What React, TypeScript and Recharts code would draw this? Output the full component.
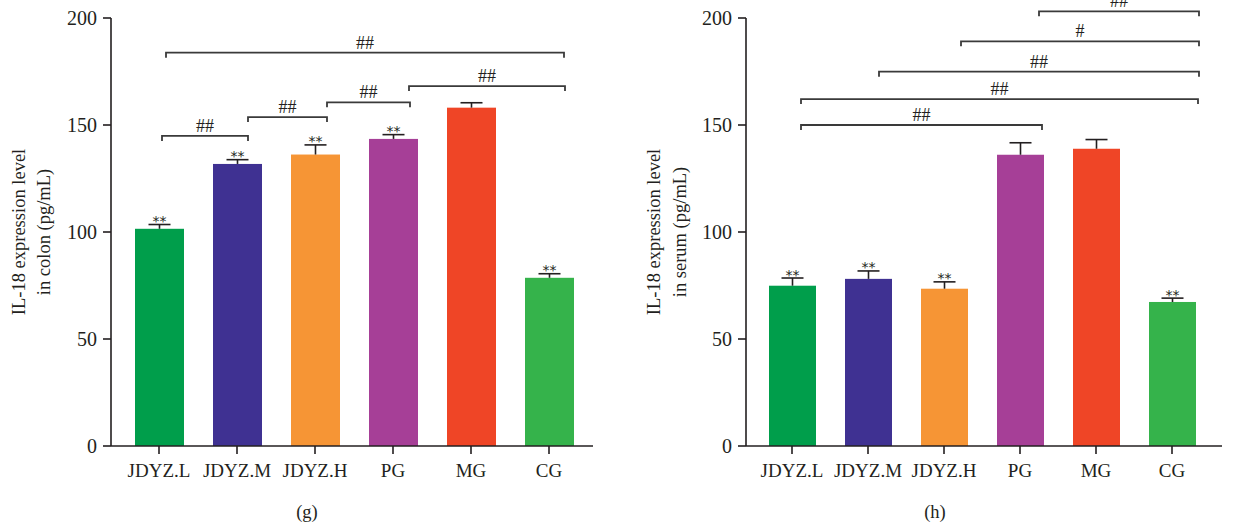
import { Bar, BarChart, ReferenceLine, XAxis, YAxis } from "recharts";

const GROUPS = ["JDYZ.L", "JDYZ.M", "JDYZ.H", "PG", "MG", "CG"];
const COLORS = ["#009e4b", "#3f3192", "#f69535", "#a63f97", "#ef4526", "#35b34b"];
const Y_TICKS = [0, 50, 100, 150, 200];

// (g) colon
const COLON_MEAN = [101.5, 131.8, 136.2, 143.5, 158.1, 78.6];
const COLON_SD = [2.0, 2.0, 4.5, 2.0, 2.3, 1.9];
const COLON_STARS = ["**", "**", "**", "**", "", "**"];

// (h) serum
const SERUM_MEAN = [74.9, 78.1, 73.5, 136.1, 138.9, 67.3];
const SERUM_SD = [3.6, 3.7, 3.2, 5.6, 4.3, 1.8];
const SERUM_STARS = ["**", "**", "**", "", "", "**"];

// significance brackets: from, to, level (data units), label
const COLON_BRACKETS = [
  { from: "JDYZ.L", to: "JDYZ.M", level: 144.9, label: "##" },
  { from: "JDYZ.M", to: "JDYZ.H", level: 153.7, label: "##" },
  { from: "JDYZ.H", to: "PG", level: 160.6, label: "##" },
  { from: "PG", to: "CG", level: 168.2, label: "##" },
  { from: "JDYZ.L", to: "CG", level: 183.8, label: "##" },
];
const SERUM_BRACKETS = [
  { from: "JDYZ.L", to: "PG", level: 150.0, label: "##" },
  { from: "JDYZ.L", to: "CG", level: 162.1, label: "##" },
  { from: "JDYZ.M", to: "CG", level: 174.9, label: "##" },
  { from: "JDYZ.H", to: "CG", level: 189.1, label: "#" },
  { from: "PG", to: "CG", level: 203.1, label: "##" },
];
// small horizontal nudges of the bracket ends (px), as drawn in the figure
const COLON_NUDGE = [[3, 11], [11, 12], [12, 17], [16, 16], [7, 15]];
const SERUM_NUDGE = [[9, 22], [9, 26], [11, 27], [17, 27], [19, 27]];

const INK = "#231f20";
const SERIF = "'Liberation Serif', 'Times New Roman', serif";

const build = (mean: number[], sd: number[], stars: string[]) =>
  GROUPS.map((name, i) => ({ name, mean: mean[i], sd: sd[i], star: stars[i], color: COLORS[i] }));

const colonData = build(COLON_MEAN, COLON_SD, COLON_STARS);
const serumData = build(SERUM_MEAN, SERUM_SD, SERUM_STARS);

function BarWithError(props: any) {
  const { x, y, width, height, payload } = props;
  const perUnit = payload.mean ? height / payload.mean : 0;
  const top = y - payload.sd * perUnit;
  const cx = x + width / 2;
  return (
    <g>
      <rect x={x} y={y} width={width} height={height} fill={payload.color} />
      <line x1={cx} x2={cx} y1={y} y2={top} stroke={INK} strokeWidth={1.6} />
      <line x1={cx - 11} x2={cx + 11} y1={top} y2={top} stroke={INK} strokeWidth={1.6} />
      {payload.star ? (
        <text x={cx} y={top + 1.5} textAnchor="middle" fontSize={14} fontFamily="'DejaVu Sans', sans-serif" fill={INK}>
          {payload.star}
        </text>
      ) : null}
    </g>
  );
}

const bracketShape = (label: string, nudge: number[]) => (props: any) => {
  const a = props.x1 + nudge[0];
  const b = props.x2 + nudge[1];
  const y = props.y1;
  return (
    <g>
      <path d={`M${a},${y + 5}V${y}H${b}V${y + 5}`} fill="none" stroke="#3a3a3a" strokeWidth={1.8} />
      <text x={(a + b) / 2} y={y - 4} textAnchor="middle" fontSize={18} fontFamily={SERIF} fill={INK}>
        {label}
      </text>
    </g>
  );
};

function Panel({ data, brackets, nudge, margin, padding, barSize }: any) {
  return (
    <BarChart width={626} height={529} data={data} margin={margin}>
      <XAxis
        dataKey="name"
        padding={padding}
        axisLine={{ stroke: INK, strokeWidth: 1.6 }}
        tickLine={{ stroke: INK, strokeWidth: 1.6 }}
        tickSize={8}
        tickMargin={10}
        tick={{ fill: INK, fontSize: 19, fontFamily: SERIF }}
        interval={0}
      />
      <YAxis
        width={60}
        domain={[0, 200]}
        ticks={Y_TICKS}
        axisLine={{ stroke: INK, strokeWidth: 1.6 }}
        tickLine={{ stroke: INK, strokeWidth: 1.6 }}
        tickSize={8}
        tickMargin={6}
        tick={{ fill: INK, fontSize: 20, fontFamily: SERIF }}
      />
      <Bar dataKey="mean" barSize={barSize} shape={BarWithError} isAnimationActive={false} />
      {brackets.map((b: any, i: number) => (
        <ReferenceLine
          key={i}
          segment={[
            { x: b.from, y: b.level },
            { x: b.to, y: b.level },
          ]}
          ifOverflow="visible"
          shape={bracketShape(b.label, nudge[i])}
        />
      ))}
    </BarChart>
  );
}

function YTitle({ x1, x2, cy, second }: { x1: number; x2: number; cy: number; second: string }) {
  return (
    <g fontFamily={SERIF} fontSize={18.5} fill={INK} textAnchor="middle">
      <text transform={`translate(${x1},${cy}) rotate(-90)`}>IL-18 expression level</text>
      <text transform={`translate(${x2},${cy}) rotate(-90)`}>{second}</text>
    </g>
  );
}

export default function App() {
  return (
    <div style={{ position: "absolute", left: 0, top: 0, width: 1252, height: 529, background: "#fff" }}>
      <div style={{ position: "absolute", left: 0, top: 0 }}>
        <Panel
          data={colonData}
          brackets={COLON_BRACKETS}
          nudge={COLON_NUDGE}
          margin={{ top: 18, right: 33, bottom: 53, left: 51 }}
          padding={{ left: 9, right: 5 }}
          barSize={49}
        />
      </div>
      <div style={{ position: "absolute", left: 626, top: 0 }}>
        <Panel
          data={serumData}
          brackets={SERUM_BRACKETS}
          nudge={SERUM_NUDGE}
          margin={{ top: 18, right: 30, bottom: 53, left: 60 }}
          padding={{ left: 8, right: 12 }}
          barSize={47}
        />
      </div>
      <svg width={1252} height={529} style={{ position: "absolute", left: 0, top: 0, pointerEvents: "none" }}>
        <YTitle x1={25} x2={50} cy={232} second="in colon (pg/mL)" />
        <YTitle x1={660} x2={686} cy={232} second="in serum (pg/mL)" />
        <g fontFamily={SERIF} fontSize={18.5} fill={INK} textAnchor="middle">
          <text x={307} y={518}>(g)</text>
          <text x={935} y={518}>(h)</text>
        </g>
      </svg>
    </div>
  );
}
